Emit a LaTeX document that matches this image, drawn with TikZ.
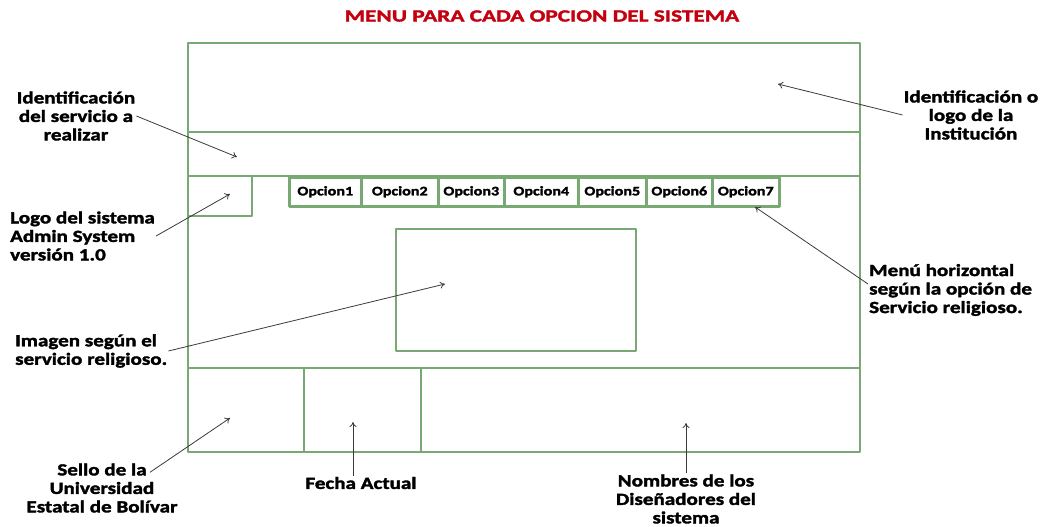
\documentclass[tikz,border=0pt]{standalone}
\usepackage{fontspec}
\setmainfont{Carlito}
\newfontfamily\lblfont{Carlito Bold}[FakeStretch=1.24,FakeBold=2]
\newfontfamily\titlefont{Carlito Bold}[FakeStretch=1.37,FakeBold=2]
\usetikzlibrary{arrows.meta,positioning}
\definecolor{frameGreen}{HTML}{79A972}
\definecolor{titleRed}{HTML}{C4000F}
\definecolor{arrowGray}{HTML}{3A3A3A}

\begin{document}
\begin{tikzpicture}[x=1pt,y=-1pt,
  frame/.style={draw=frameGreen,line width=2.6pt,line join=round},
  lbl/.style={font=\lblfont\fontsize{17}{18.5}\selectfont,align=center,inner sep=1pt},
  optbox/.style={frame,minimum height=29pt,inner sep=0pt,anchor=north west,
    font=\lblfont\fontsize{13}{14}\selectfont},
  arr/.style={-{To[length=5pt,width=7pt]},arrowGray,line width=0.8pt}
]
  \useasboundingbox (0,0) rectangle (1044,527);

  % title
  \node[font=\titlefont\fontsize{17}{18}\selectfont,text=titleRed] (title) at (542,16) {MENU PARA CADA OPCION DEL SISTEMA};

  % screen layout
  \draw[frame] (188,43) rectangle (860,452);
  \draw[frame] (188,132) -- (860,132);
  \draw[frame] (188,176) -- (860,176);
  \draw[frame] (252,176) -- (252,216) -- (188,216);
  \draw[frame] (396,229) rectangle (636,351);
  \draw[frame] (188,368) -- (860,368);
  \draw[frame] (304,368) -- (304,452);
  \draw[frame] (421,368) -- (421,452);

  % menu options
  \foreach \i/\xa/\xb in {1/288/360,2/360/437,3/437/503,4/503/577,5/577/645,6/645/711,7/711/778}
    \node[optbox,minimum width=\xb pt-\xa pt] (opt\i) at (\xa,176) {Opcion\i};

  % arrow targets
  \coordinate (tServ) at (237,157);
  \coordinate (tLogo) at (230,194);
  \coordinate (tInst) at (778,84);
  \coordinate (tMenu) at (755,207);
  \coordinate (tImg) at (445,284);
  \coordinate (tSello) at (230,418);
  \coordinate (tFecha) at (353,422);
  \coordinate (tNombres) at (686,423);

  % labels
  \node[lbl] (lblServ) at (76,116) {Identificación\\del servicio a\\realizar};
  \node[lbl,align=left,anchor=west] (lblLogo) at (9,236) {Logo del sistema\\Admin System\\versión 1.0};
  \node[lbl] (lblInst) at (971,115) {Identificación o\\logo de la\\Institución};
  \node[lbl,align=left,anchor=west] (lblMenu) at (868,290) {Menú horizontal\\según la opción de\\Servicio religioso.};
  \node[lbl,align=left,anchor=west] (lblImg) at (14,351) {Imagen según el\\servicio religioso.};
  \node[lbl] (lblSello) at (102,488) {Sello de la\\Universidad\\Estatal de Bolívar};
  \node[lbl] (lblFecha) at (361,483) {Fecha Actual};
  \node[lbl] (lblNombres) at (686,499) {Nombres de los\\Diseñadores del\\sistema};

  % connectors
  \draw[arr] (lblServ.east) -- (tServ);
  \draw[arr] (lblLogo.east) -- (tLogo);
  \draw[arr] (lblInst.west) -- (tInst);
  \draw[arr] ([yshift=6pt]lblMenu.west) -- (tMenu);
  \draw[arr] (lblImg.east) -- (tImg);
  \draw[arr] ([xshift=48pt,yshift=-10pt]lblSello.north) -- (tSello);
  \draw[arr] ([xshift=-8pt]lblFecha.north) -- (tFecha);
  \draw[arr] (lblNombres.north) -- (tNombres);
\end{tikzpicture}
\end{document}
